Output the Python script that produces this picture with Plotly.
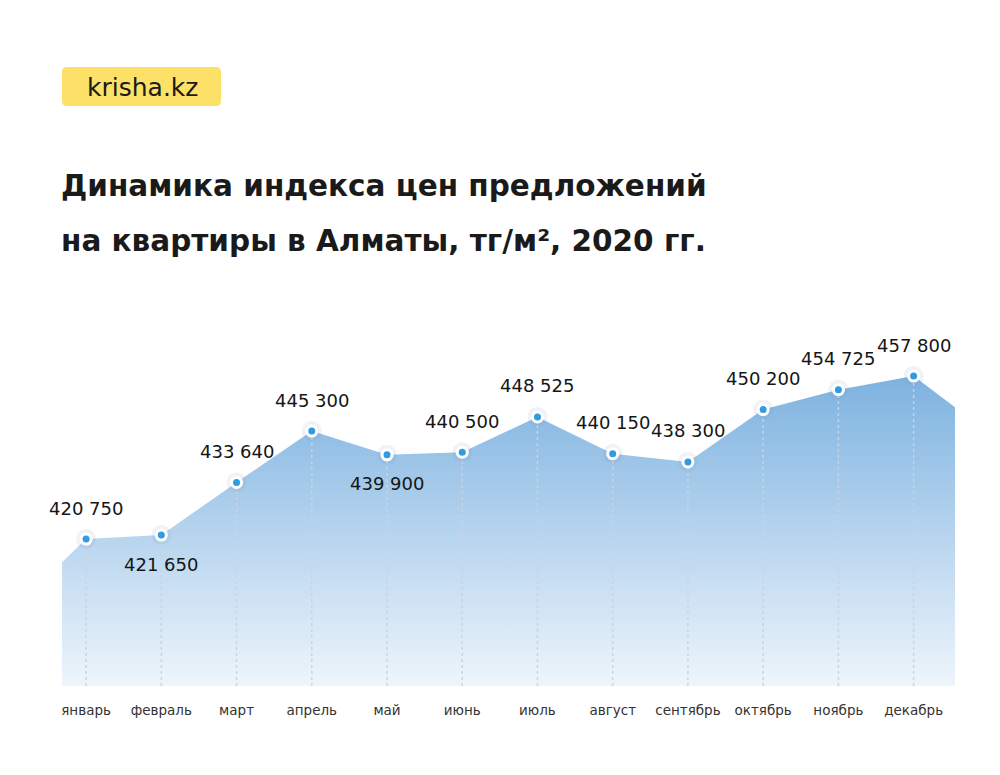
import plotly.graph_objects as go

# data
months = ["январь", "февраль", "март", "апрель", "май", "июнь",
          "июль", "август", "сентябрь", "октябрь", "ноябрь", "декабрь"]
prices = [420750, 421650, 433640, 445300, 439900, 440500,
          448525, 440150, 438300, 450200, 454725, 457800]
label_below = [False, True, False, False, True, False,
               False, False, False, False, False, False]
# the filled area runs a bit past the first and last month
edge_x = [-0.32, 11.55]
edge_y = [415500, 450700]

title_lines = ["Динамика индекса цен предложений",
               "на квартиры в Алматы, тг/м², 2020 гг."]
logo_text = "krisha.kz"

y_min = 387350
y_max = 475100

W, H = 1000, 775
M = dict(l=54, r=53, t=292, b=97)
idx = list(range(len(months)))
fmt = lambda v: f"{v:,}".replace(",", " ")

# pixel (as seen on the page, 8px body margin) -> paper coords
plot_w = W - M["l"] - M["r"]
plot_h = H - M["t"] - M["b"]
px = lambda x: (x - 8 - M["l"]) / plot_w
py = lambda y: (H - M["b"] + 8 - y) / plot_h


def rounded_rect(x0, y0, x1, y1, r):
    return (f"M {px(x0 + r)} {py(y0)} L {px(x1 - r)} {py(y0)} "
            f"Q {px(x1)} {py(y0)} {px(x1)} {py(y0 + r)} "
            f"L {px(x1)} {py(y1 - r)} Q {px(x1)} {py(y1)} {px(x1 - r)} {py(y1)} "
            f"L {px(x0 + r)} {py(y1)} Q {px(x0)} {py(y1)} {px(x0)} {py(y1 - r)} "
            f"L {px(x0)} {py(y0 + r)} Q {px(x0)} {py(y0)} {px(x0 + r)} {py(y0)} Z")


fig = go.Figure()

# gradient area
fig.add_trace(go.Scatter(
    x=[edge_x[0]] + idx + [edge_x[1]],
    y=[edge_y[0]] + prices + [edge_y[1]],
    mode="lines",
    line=dict(width=0, color="rgba(0,0,0,0)"),
    fill="tozeroy",
    fillgradient=dict(type="vertical", start=y_min, stop=max(prices),
                      colorscale=[[0, "#eef5fc"], [1, "#7db2e0"]]),
    hoverinfo="skip",
))

# dotted drop lines
drop_x, drop_y = [], []
for i, v in zip(idx, prices):
    drop_x += [i, i, None]
    drop_y += [y_min, v, None]
fig.add_trace(go.Scatter(
    x=drop_x, y=drop_y, mode="lines",
    line=dict(color="rgba(205,210,220,0.95)", width=1.5, dash="dot"),
    hoverinfo="skip",
))

# markers: soft halo, white ring, blue dot
fig.add_trace(go.Scatter(x=idx, y=prices, mode="markers",
                         marker=dict(size=20, color="rgba(120,150,190,0.12)"),
                         hoverinfo="skip"))
fig.add_trace(go.Scatter(x=idx, y=prices, mode="markers",
                         marker=dict(size=13, color="white"), hoverinfo="skip"))
fig.add_trace(go.Scatter(x=idx, y=prices, mode="markers",
                         marker=dict(size=7, color="#2f9be0")))

for i, v, below in zip(idx, prices, label_below):
    fig.add_annotation(x=i, y=v, text=fmt(v), showarrow=False,
                       yshift=-29 if below else 31,
                       font=dict(family="DejaVu Sans", size=18,
                                 color="#151515"))

# title and logo
for line, cy in zip(title_lines, [186, 241]):
    fig.add_annotation(xref="paper", yref="paper", x=px(59), y=py(cy),
                       xanchor="left", yanchor="middle",
                       text="<b>" + line + "</b>", showarrow=False,
                       font=dict(family="DejaVu Sans", size=29.5,
                                 color="#1a1a1a"))

fig.add_shape(type="path", xref="paper", yref="paper",
              path=rounded_rect(62, 67, 221, 106, 5),
              fillcolor="#fde067", line=dict(width=0), layer="below")
fig.add_annotation(xref="paper", yref="paper", x=px(142), y=py(87),
                   xanchor="center", yanchor="middle",
                   text=logo_text, showarrow=False,
                   font=dict(family="DejaVu Sans", size=25, color="#1a1a1a"))

fig.update_layout(
    width=W, height=H,
    margin=M,
    paper_bgcolor="white", plot_bgcolor="white",
    showlegend=False,
    xaxis=dict(range=edge_x, tickmode="array", tickvals=idx, ticktext=months,
               showgrid=False, zeroline=False, showline=False,
               ticks="", ticklabelstandoff=14,
               tickfont=dict(family="DejaVu Sans", size=13.5,
                             color="#333333")),
    yaxis=dict(range=[y_min, y_max], visible=False, showgrid=False,
               zeroline=False),
)

fig.write_html("out.html")
